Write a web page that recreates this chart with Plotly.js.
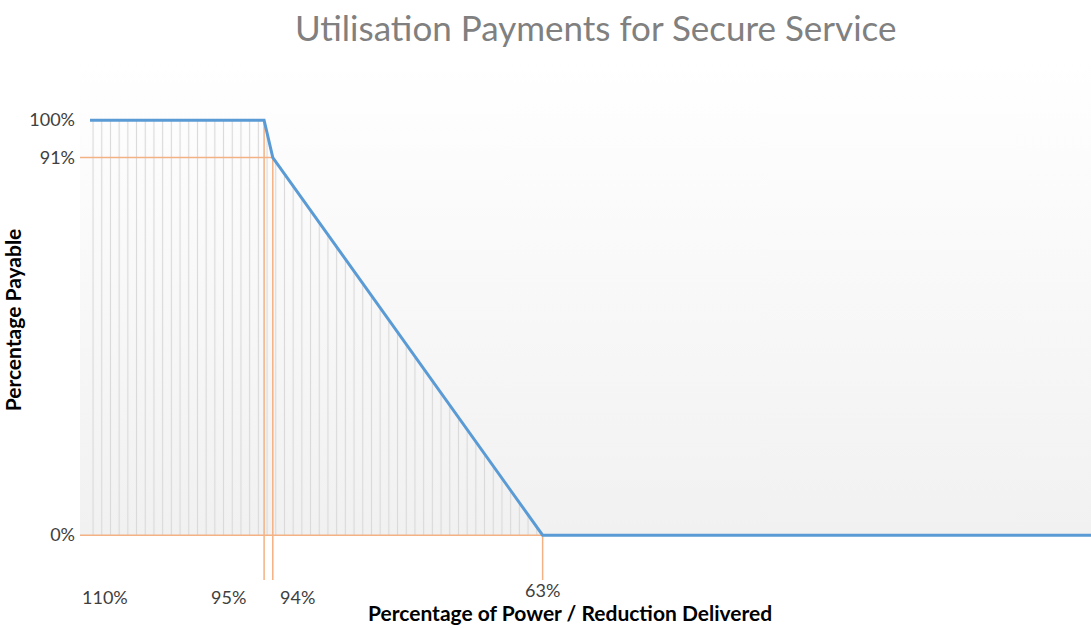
<!DOCTYPE html>
<html>
<head>
<meta charset="utf-8">
<script src="https://cdn.plot.ly/plotly-3.0.1.min.js"></script>
<style>html,body{margin:0;padding:0;background:#fff;}#chart{width:1091px;height:628px;}</style>
</head>
<body>
<div id="chart"></div>
<script>
// ---- data (schematic axis: each breakpoint sits in a slot of the category axis) ----
const breakpointLabels = ['110%', '95%', '94%', '63%', ''];
const breakpointSlots = [0, 20, 21, 52, 115];
const payablePct = [100, 100, 91, 0, 0];
const yTickVals = [100, 91, 0];
const yTickText = ['100%', '91%', '0%'];
const verticalGuideIdx = [1, 2, 3];
const horizontalGuideIdx = [2, 3];

// ---- layout helpers ----
const xRange = [-1.15, 115];
const yRange = [-10.8, 114.5];
const labelShift = [15, -36, 25, 0, 0];
const labelY = [-0.033, -0.033, -0.033, -0.019, 0];
const orange = '#f4b183';
const blue = '#5b9bd5';
const fontFam = 'Lato, "Open Sans", sans-serif';

const traces = [];
// gradient plot background above the baseline
traces.push({
  x: [xRange[0], xRange[1]], y: [yRange[1], yRange[1]],
  mode: 'lines', line: {width: 0}, fill: 'tozeroy',
  fillgradient: {type: 'vertical', start: 0, stop: yRange[1],
    colorscale: [[0, '#f1f1f1'], [1, '#ffffff']]},
  hoverinfo: 'skip'
});
// hatched area under curve
traces.push({
  x: breakpointSlots, y: payablePct, mode: 'lines', line: {width: 0},
  fill: 'tozeroy', fillcolor: 'rgba(0,0,0,0)',
  fillpattern: {shape: '|', size: 8.7, solidity: 0.13, fgcolor: '#d9d9d9', bgcolor: 'rgba(0,0,0,0)'},
  hoverinfo: 'skip'
});
// orange guide lines
verticalGuideIdx.forEach(i => {
  traces.push({x: [breakpointSlots[i], breakpointSlots[i]], y: [payablePct[i], yRange[0]],
    mode: 'lines', line: {color: orange, width: 1.5}, hoverinfo: 'skip'});
});
horizontalGuideIdx.forEach(i => {
  traces.push({x: [xRange[0], breakpointSlots[i]], y: [payablePct[i], payablePct[i]],
    mode: 'lines', line: {color: orange, width: 1.5}, hoverinfo: 'skip'});
});
// main curve
traces.push({
  x: breakpointSlots, y: payablePct, mode: 'lines',
  line: {color: blue, width: 3}, hoverinfo: 'skip'
});

const annotations = [];
breakpointLabels.forEach((t, i) => {
  if (!t) return;
  annotations.push({x: breakpointSlots[i], xref: 'x', y: labelY[i], yref: 'paper',
    text: t, showarrow: false, xanchor: 'center', yanchor: 'middle', xshift: labelShift[i],
    font: {family: fontFam, size: 18, color: '#404040'}});
});
annotations.push({x: 0.4847, xref: 'paper', y: -0.062, yref: 'paper', yanchor: 'middle',
  text: '<b>Percentage of Power / Reduction Delivered</b>', showarrow: false,
  font: {family: fontFam, size: 21, color: '#000'}});

const layout = {
  width: 1091, height: 628,
  margin: {l: 80, r: 0, t: 60, b: 48},
  paper_bgcolor: '#ffffff', plot_bgcolor: 'rgba(0,0,0,0)',
  showlegend: false, hovermode: false,
  title: {text: 'Utilisation Payments for Secure Service', x: 0.546, xanchor: 'center', y: 0.955, yanchor: 'middle',
    font: {family: fontFam, size: 35, color: '#808080'}},
  xaxis: {range: xRange, showgrid: false, zeroline: false, showline: false, showticklabels: false, ticks: ''},
  yaxis: {range: yRange, showgrid: false, zeroline: false, showline: false, ticks: '',
    tickvals: yTickVals, ticktext: yTickText, ticklabelstandoff: 4,
    tickfont: {family: fontFam, size: 18, color: '#404040'},
    title: {text: '<b>Percentage Payable</b>', standoff: 3, font: {family: fontFam, size: 21, color: '#000'}}},
  annotations: annotations
};
Plotly.newPlot('chart', traces, layout, {displayModeBar: false, staticPlot: true});
</script>
</body>
</html>
